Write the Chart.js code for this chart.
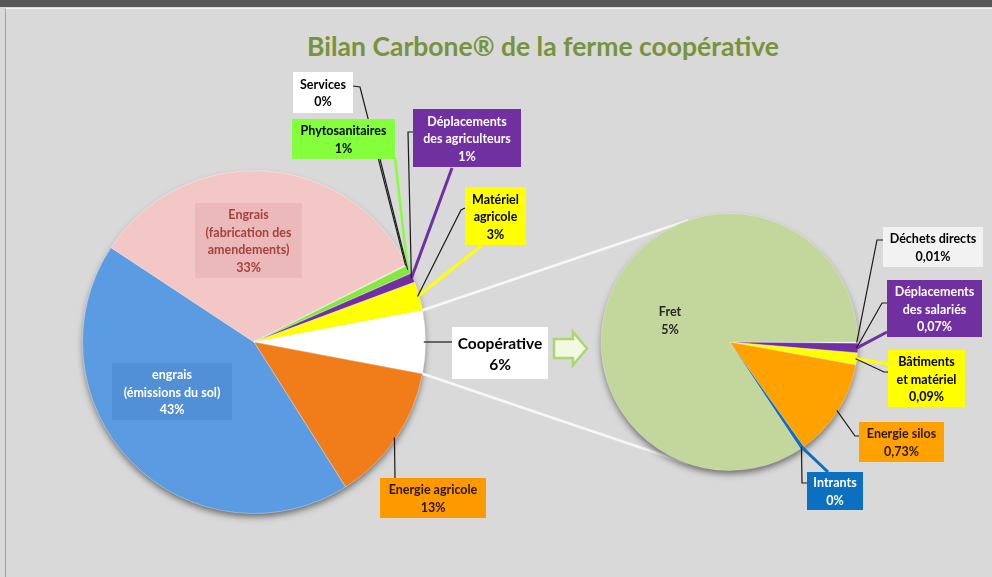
<!DOCTYPE html>
<html>
<head>
<meta charset="utf-8">
<script src="https://cdn.jsdelivr.net/npm/chart.js@4.4.1/dist/chart.umd.min.js"></script>
<style>
  html, body { margin: 0; padding: 0; background: #d9d9d9; }
  #wrap { position: relative; width: 992px; height: 577px; overflow: hidden; }
  #topbar { position: absolute; left: 0; top: 0; width: 992px; height: 7px; background: #575757; }
  #frame { position: absolute; left: 5px; top: 8px; width: 990px; height: 580px;
           border-left: 1px solid #a3a3a3; border-top: 1px solid #f2f2f2; }
  #title { position: absolute; left: 94px; width: 898px; top: 30px; line-height: 34px;
           text-align: center; font: bold 26.5px Lato, sans-serif; color: #77933c; }
  canvas { position: absolute; left: 0; top: 0; }
</style>
</head>
<body>
<div id="wrap">
  <div id="topbar"></div>
  <div id="frame"></div>
  <div id="title">Bilan Carbone® de la ferme coopérative</div>
  <canvas id="mainPie" width="992" height="577"></canvas>
  <canvas id="secondPie" width="992" height="577"></canvas>
</div>
<script>
// secondary pie (detail of "Coopérative"), values in % of the total
const secondLabels = ["Déchets directs", "Déplacements\ndes salariés", "Bâtiments\net matériel", "Energie silos", "Intrants", "Fret"];
const secondValues = [0.01, 0.07, 0.09, 0.73, 0.03, 5.0];
const secondPctText = ["0,01%", "0,07%", "0,09%", "0,73%", "0%", "5%"];

// main pie, first slice is the combined "Coopérative"
const coopValue = secondValues.reduce((a, b) => a + b, 0);
const mainLabels = ["Coopérative", "Energie agricole", "engrais\n(émissions du sol)", "Engrais\n(fabrication des\namendements)",
  "Services", "Phytosanitaires", "Déplacements\ndes agriculteurs", "Matériel\nagricole"];
const mainValues = [coopValue, 13.05, 43.2, 33.2, 0.1, 0.8, 0.9, 2.7];
const mainPctText = ["6%", "13%", "43%", "33%", "0%", "1%", "1%", "3%"];

const mainColors = ["#ffffff", "#f07d1a", "#5b9be1", "#f4c7c7", "#ffffff", "#86e83e", "#7030a0", "#ffff00"];
const secondColors = ["#f2f2f2", "#7030a0", "#ffff00", "#ffa200", "#0b70c0", "#c3d69b"];

// label boxes: position, colours, leader path (ends on the slice)
const mainBoxes = [
  { x: 452, y: 327, w: 96, h: 52, bg: "#ffffff", color: "#000", size: 15.5, lh: 21, leader: [[452, 342]] },
  { x: 380, y: 478, w: 106, h: 40, bg: "#ff9900", color: "#2b1600", leader: [[395, 478]] },
  { x: 112, y: 363, w: 120, h: 57, bg: "rgba(40,90,170,0.18)", color: "#ffffff" },
  { x: 195, y: 203, w: 107, h: 75, bg: "rgba(190,110,110,0.15)", color: "#a5413f" },
  { x: 293, y: 72, w: 60, h: 41, bg: "#ffffff", color: "#000", leader: [[353, 86], [360, 87]] },
  { x: 292, y: 119, w: 103, h: 40, bg: "#84ff3c", color: "#000", leader: [[380, 159]],
    extra: { from: [395, 158], color: "#84ff3c", width: 2.5 } },
  { x: 413, y: 109, w: 108, h: 58, bg: "#7030a0", color: "#ffffff", leader: [[413, 132], [408, 132]],
    extra: { from: [452, 168], color: "#7030a0", width: 3 } },
  { x: 465, y: 187, w: 61, h: 58, bg: "#ffff00", color: "#000", leader: [[465, 208], [461, 210]],
    extra: { from: [481, 246], color: "#ffff00", width: 3 } }
];
const secondBoxes = [
  { x: 883, y: 227, w: 100, h: 40, bg: "#f2f2f2", color: "#000", leader: [[883, 240], [877, 240]] },
  { x: 887, y: 280, w: 95, h: 57, bg: "#7030a0", color: "#ffffff", leader: [[887, 303], [882, 303]],
    extra: { from: [887, 332], color: "#7030a0", width: 3 } },
  { x: 888, y: 350, w: 77, h: 57, bg: "#ffff00", color: "#000", leader: [[888, 372], [884, 372]],
    extra: { from: [888, 364], color: "#ffff00", width: 3 } },
  { x: 859, y: 422, w: 85, h: 40, bg: "#ffa200", color: "#2b1600", leader: [[859, 436], [855, 436]] },
  { x: 807, y: 472, w: 56, h: 38, bg: "#0b70c0", color: "#ffffff", leader: [[807, 483], [802, 483]],
    extra: { from: [828, 472], color: "#0b70c0", width: 3 } },
  { x: 620, y: 302, w: 100, h: 36, bg: null, color: "#262626" }
];

function arcPoint(arc, k) {
  const p = arc.getProps(["x", "y", "startAngle", "endAngle", "outerRadius"], true);
  const mid = (p.startAngle + p.endAngle) / 2;
  return [p.x + Math.cos(mid) * p.outerRadius * k, p.y + Math.sin(mid) * p.outerRadius * k];
}

function drawLabels(chart, boxes, labels, pcts) {
  const ctx = chart.ctx;
  const arcs = chart.getDatasetMeta(0).data;
  ctx.save();
  boxes.forEach((b, i) => {
    const end = arcPoint(arcs[i], 0.99);
    if (b.extra) {
      ctx.strokeStyle = b.extra.color;
      ctx.lineWidth = b.extra.width;
      ctx.beginPath();
      ctx.moveTo(b.extra.from[0], b.extra.from[1]);
      ctx.lineTo(end[0], end[1]);
      ctx.stroke();
    }
    if (b.leader) {
      ctx.strokeStyle = "#1a1a1a";
      ctx.lineWidth = 1.2;
      ctx.beginPath();
      ctx.moveTo(b.leader[0][0], b.leader[0][1]);
      b.leader.slice(1).forEach(p => ctx.lineTo(p[0], p[1]));
      ctx.lineTo(end[0], end[1]);
      ctx.stroke();
    }
    if (b.bg) {
      ctx.fillStyle = b.bg;
      ctx.fillRect(b.x, b.y, b.w, b.h);
    }
    const lines = labels[i].split("\n").concat([pcts[i]]);
    const size = b.size || 12.5;
    const lh = b.lh || 17.5;
    ctx.font = "bold " + size + "px Lato, sans-serif";
    ctx.fillStyle = b.color;
    ctx.textAlign = "center";
    ctx.textBaseline = "middle";
    const cx = b.x + b.w / 2;
    const top = b.y + b.h / 2 - (lines.length - 1) * lh / 2;
    lines.forEach((t, j) => ctx.fillText(t, cx, top + j * lh + 1));
  });
  ctx.restore();
}

const shadowPlugin = {
  id: "pieShadow",
  beforeDatasetsDraw(chart) {
    const p = chart.getDatasetMeta(0).data[0].getProps(["x", "y", "outerRadius"], true);
    const ctx = chart.ctx;
    ctx.save();
    ctx.shadowColor = "rgba(0,0,0,0.55)";
    ctx.shadowBlur = 7;
    ctx.shadowOffsetY = 4;
    ctx.beginPath();
    ctx.arc(p.x, p.y, p.outerRadius - 1, 0, Math.PI * 2);
    ctx.fillStyle = "#999";
    ctx.fill();
    ctx.restore();
  }
};

const pieOptions = (rotation, padding) => ({
  responsive: false,
  animation: false,
  rotation: rotation,
  layout: { padding: padding },
  plugins: { legend: { display: false }, tooltip: { enabled: false } }
});

const secondChart = new Chart(document.getElementById("secondPie"), {
  type: "pie",
  data: {
    labels: secondLabels,
    datasets: [{ data: secondValues, backgroundColor: secondColors, borderColor: "rgba(255,255,255,0.25)", borderWidth: 1 }]
  },
  options: pieOptions(90, { left: 600, right: 133, top: 213, bottom: 106 }),
  plugins: [shadowPlugin, {
    id: "secondLabels",
    afterDraw(chart) { drawLabels(chart, secondBoxes, secondLabels, secondPctText); }
  }]
});

const coopDeg = coopValue / mainValues.reduce((a, b) => a + b, 0) * 360;

const mainChart = new Chart(document.getElementById("mainPie"), {
  type: "pie",
  data: {
    labels: mainLabels,
    datasets: [{ data: mainValues, backgroundColor: mainColors, borderColor: "rgba(255,255,255,0.35)", borderWidth: 1 }]
  },
  options: pieOptions(90 - coopDeg / 2, { left: 82, right: 566, top: 170, bottom: 63 }),
  plugins: [shadowPlugin, {
    id: "seriesLines",
    beforeDatasetsDraw(chart) {
      // lines from the "Coopérative" slice to the tangents of the second pie
      const a = chart.getDatasetMeta(0).data[0].getProps(["x", "y", "startAngle", "endAngle", "outerRadius"], true);
      const c = secondChart.getDatasetMeta(0).data[0].getProps(["x", "y", "outerRadius"], true);
      const ctx = chart.ctx;
      ctx.save();
      ctx.strokeStyle = "#f7f7f7";
      ctx.lineWidth = 2.5;
      [[a.startAngle, 1], [a.endAngle, -1]].forEach(([ang, s]) => {
        const px = a.x + Math.cos(ang) * a.outerRadius;
        const py = a.y + Math.sin(ang) * a.outerRadius;
        const d = Math.hypot(px - c.x, py - c.y);
        const t = Math.atan2(py - c.y, px - c.x) + s * Math.acos(c.outerRadius / d);
        ctx.beginPath();
        ctx.moveTo(px, py);
        ctx.lineTo(c.x + Math.cos(t) * c.outerRadius, c.y + Math.sin(t) * c.outerRadius);
        ctx.stroke();
      });
      ctx.restore();
    },
    afterDraw(chart) {
      drawLabels(chart, mainBoxes, mainLabels, mainPctText);
      // arrow between the two pies
      const ctx = chart.ctx;
      ctx.save();
      ctx.beginPath();
      ctx.moveTo(554, 339);
      ctx.lineTo(573, 339);
      ctx.lineTo(573, 332);
      ctx.lineTo(587, 348.5);
      ctx.lineTo(573, 365);
      ctx.lineTo(573, 358);
      ctx.lineTo(554, 358);
      ctx.closePath();
      ctx.fillStyle = "#f3f8e2";
      ctx.fill();
      ctx.strokeStyle = "#a9d86e";
      ctx.lineWidth = 2.5;
      ctx.stroke();
      ctx.restore();
    }
  }]
});
</script>
</body>
</html>
